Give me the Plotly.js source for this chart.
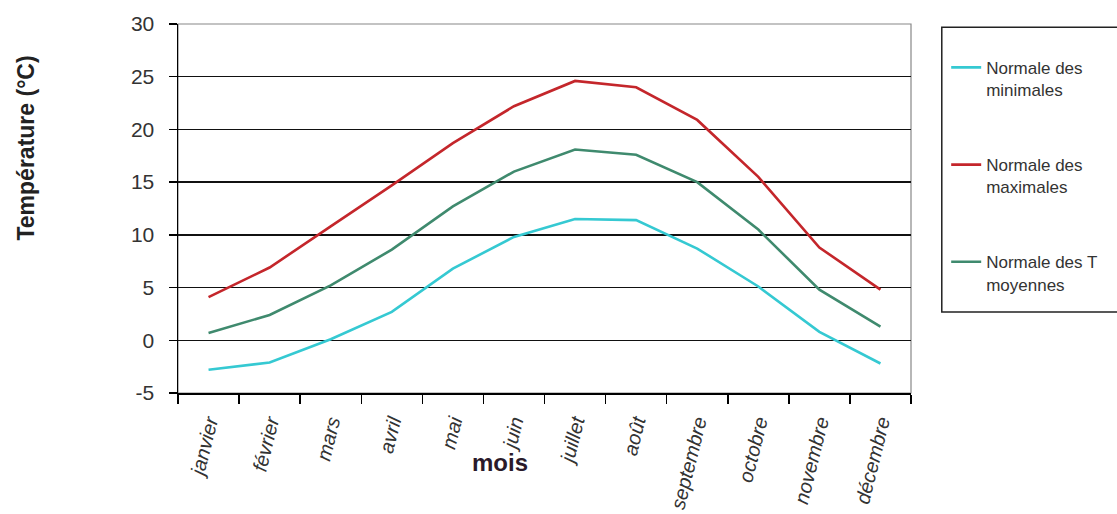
<!DOCTYPE html>
<html>
<head>
<meta charset="utf-8">
<script src="https://cdn.plot.ly/plotly-3.0.1.min.js"></script>
<style>
html,body{margin:0;padding:0;background:#fff;}
#chart{width:1117px;height:514px;}
</style>
</head>
<body>
<div id="chart"></div>
<script>
const months = ['janvier','février','mars','avril','mai','juin','juillet','août','septembre','octobre','novembre','décembre'];
const tMin = [-2.8, -2.1, 0.1, 2.7, 6.8, 9.8, 11.5, 11.4, 8.7, 5.1, 0.8, -2.2];
const tMax = [4.1, 6.9, 10.8, 14.7, 18.7, 22.2, 24.6, 24.0, 20.9, 15.5, 8.8, 4.8];
const tMoy = [0.7, 2.4, 5.2, 8.6, 12.7, 16.0, 18.1, 17.6, 15.0, 10.5, 4.8, 1.3];
const seriesNames = ['Normale des<br>minimales', 'Normale des<br>maximales', 'Normale des T<br>moyennes'];
const yTicks = [-5, 0, 5, 10, 15, 20, 25, 30];
const yTickText = ['-5', '0', '5', '10', '15', '20', '25', '30'];

const FONT = 'Liberation Sans, Arial, sans-serif';
const colors = ['#35C9D2', '#C4262B', '#3F8A6E'];
const series = [tMin, tMax, tMoy];

const traces = series.map((vals, i) => ({
  type: 'scatter',
  mode: 'lines',
  x: months,
  y: vals,
  name: seriesNames[i],
  legendgroup: 'g' + i,
  line: {color: colors[i], width: 2.6},
  hoverinfo: 'skip'
}));

const layout = {
  width: 1117,
  height: 514,
  margin: {l: 178, r: 206, t: 24, b: 121},
  paper_bgcolor: '#ffffff',
  plot_bgcolor: '#ffffff',
  font: {family: FONT, color: '#222'},
  showlegend: true,
  legend: {
    x: 1.048, xanchor: 'left',
    y: 0.93, yanchor: 'top',
    bgcolor: 'rgba(0,0,0,0)',
    borderwidth: 0,
    font: {family: FONT, size: 17, color: '#333'},
    valign: 'top',
    tracegroupgap: 50
  },
  xaxis: {
    type: 'category',
    range: [-0.5, 11.5],
    showline: true, linecolor: '#000', linewidth: 1.5,
    ticks: 'outside', tickson: 'boundaries', ticklen: 9, tickwidth: 1.5, tickcolor: '#000',
    tickangle: -76,
    tickfont: {family: FONT, size: 20, color: '#333', style: 'italic'},
    ticklabelstandoff: 8,
    showgrid: false,
    automargin: false,
    fixedrange: true
  },
  yaxis: {
    range: [-5, 30],
    tickvals: yTicks,
    ticktext: yTickText,
    showline: true, linecolor: '#000', linewidth: 1.5,
    ticks: 'outside', ticklen: 8, tickwidth: 1.5, tickcolor: '#000',
    tickfont: {family: FONT, size: 21, color: '#333'},
    ticklabelstandoff: 10,
    showgrid: true, gridcolor: '#111', gridwidth: 1.4,
    zeroline: true, zerolinecolor: '#111', zerolinewidth: 1.4,
    automargin: false,
    fixedrange: true
  },
  shapes: [
    {type: 'rect', xref: 'paper', yref: 'paper', x0: 0, x1: 1, y0: 0, y1: 1,
     line: {color: '#888', width: 1.2}, layer: 'below'},
    {type: 'rect', xref: 'paper', yref: 'paper', x0: 1.042, x1: 1.4, y0: 0.2195, y1: 0.991,
     line: {color: '#222', width: 1.5}, fillcolor: 'rgba(0,0,0,0)'}
  ],
  annotations: [
    {text: '<b>Température (°C)</b>', xref: 'paper', yref: 'paper', x: -0.2087, y: 0.6626,
     textangle: -90, showarrow: false, font: {family: FONT, size: 23, color: '#222'},
     xanchor: 'center', yanchor: 'middle'},
    {text: '<b>mois</b>', xref: 'paper', yref: 'paper', x: 0.4393, y: -0.187,
     showarrow: false, font: {family: FONT, size: 24, color: '#2a1a2a'},
     xanchor: 'center', yanchor: 'middle'}
  ]
};

Plotly.newPlot('chart', traces, layout, {displayModeBar: false, staticPlot: true});
</script>
</body>
</html>
